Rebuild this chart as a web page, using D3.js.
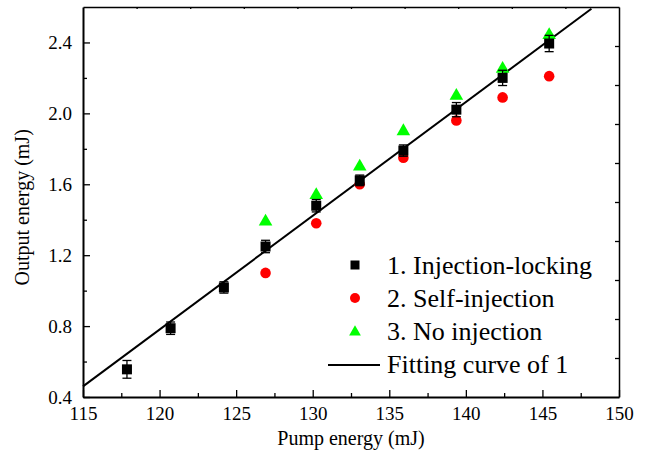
<!DOCTYPE html>
<html>
<head>
<meta charset="utf-8">
<script src="https://cdn.jsdelivr.net/npm/d3@7"></script>
</head>
<body style="margin:0">
<div id="chart"></div>
<script>
///// DATOS /////
let pump = [117.87, 120.72, 124.2, 126.92, 130.23, 133.07, 135.92, 139.38, 142.4, 145.44];
let injLocking = [0.556, 0.788, 1.018, 1.249, 1.479, 1.622, 1.79, 2.021, 2.2, 2.394];
let injLockingErr = [0.05, 0.035, 0.032, 0.035, 0.035, 0.03, 0.032, 0.04, 0.043, 0.046];

let pumpOther = [126.92, 130.23, 133.07, 135.92, 139.38, 142.4, 145.44];
let selfInjection = [1.10, 1.38, 1.60, 1.75, 1.96, 2.09, 2.21];
let noInjection = [1.395, 1.545, 1.705, 1.905, 2.105, 2.257, 2.447];

let fitX = [115, 148.2];
let fitY = [0.46, 2.59];

let xTicks = [115, 120, 125, 130, 135, 140, 145, 150];
let xMinor = [117.5, 122.5, 127.5, 132.5, 137.5, 142.5, 147.5];
let yTicks = [0.4, 0.8, 1.2, 1.6, 2.0, 2.4];
let yMinor = [0.6, 1.0, 1.4, 1.8, 2.2];

let legendLabels = ['1. Injection-locking', '2. Self-injection', '3. No injection', 'Fitting curve of 1'];

let fontName = 'Liberation Serif';

///// GRAFICO /////
let chartBlock = d3.select('#chart');
let margin = {top: 7, right: 30, bottom: 66, left: 83};
let width = 649 - margin.left - margin.right,
    height = 463 - margin.top - margin.bottom;

let svg = chartBlock.append('svg')
    .attr('width', width + margin.left + margin.right)
    .attr('height', height + margin.top + margin.bottom)
    .attr('font-family', fontName);

let chart = svg.append('g')
    .attr('transform', 'translate(' + margin.left + ',' + margin.top + ')');

let x = d3.scaleLinear().domain([115, 150]).range([0, width]);
let y = d3.scaleLinear().domain([0.4, 2.6]).range([height, 0]);

//Ejes secundarios (arriba y derecha) con su propia division
let xTop = d3.scaleLinear().domain([0, 10]).range([0, width]);
let yRight = d3.scaleLinear().domain([0, 10]).range([height, 0]);

function styleAxis(g, w) {
    g.attr('font-family', fontName).attr('font-size', 19);
    g.select('.domain').attr('stroke', '#000').attr('stroke-width', w);
    g.selectAll('.tick line').attr('stroke', '#000').attr('stroke-width', 1.3);
    g.selectAll('.tick text').attr('fill', '#000');
}

//Eje X abajo
chart.append('g')
    .attr('transform', 'translate(0,' + height + ')')
    .call(d3.axisBottom(x).tickValues(xMinor).tickSizeInner(-4).tickSizeOuter(0).tickFormat(''))
    .call(function(g) { g.select('.domain').remove(); styleAxis(g, 2); });

chart.append('g')
    .attr('transform', 'translate(0,' + height + ')')
    .call(d3.axisBottom(x).tickValues(xTicks).tickSizeInner(-7).tickSizeOuter(0).tickPadding(10).tickFormat(d3.format('d')))
    .call(function(g) { styleAxis(g, 2); });

//Eje Y izquierda
chart.append('g')
    .call(d3.axisLeft(y).tickValues(yMinor).tickSizeInner(-4).tickSizeOuter(0).tickFormat(''))
    .call(function(g) { g.select('.domain').remove(); styleAxis(g, 2); });

chart.append('g')
    .call(d3.axisLeft(y).tickValues(yTicks).tickSizeInner(-7).tickSizeOuter(0).tickPadding(11).tickFormat(d3.format('.1f')))
    .call(function(g) { styleAxis(g, 2); });

//Ejes arriba y derecha
chart.append('g')
    .call(d3.axisTop(xTop).tickValues(d3.range(1, 10)).tickSizeInner(-2).tickSizeOuter(0).tickFormat(''))
    .call(function(g) { styleAxis(g, 1.5); });

chart.append('g')
    .attr('transform', 'translate(' + width + ',0)')
    .call(d3.axisRight(yRight).tickValues(d3.range(1, 10)).tickSizeInner(-4).tickSizeOuter(0).tickFormat(''))
    .call(function(g) { styleAxis(g, 1.5); });

//Titulos de ejes
svg.append('text')
    .attr('x', margin.left + width / 2)
    .attr('y', 445)
    .attr('text-anchor', 'middle')
    .attr('font-family', fontName)
    .attr('font-size', 20)
    .text('Pump energy (mJ)');

svg.append('text')
    .attr('transform', 'translate(29,' + (margin.top + y(1.47)) + ') rotate(-90)')
    .attr('text-anchor', 'middle')
    .attr('font-family', fontName)
    .attr('font-size', 20)
    .text('Output energy (mJ)');

//Curva de ajuste
let fitData = fitX.map(function(d, i) { return {x: d, y: fitY[i]}; });
chart.append('path')
    .datum(fitData)
    .attr('fill', 'none')
    .attr('stroke', '#000')
    .attr('stroke-width', 2)
    .attr('d', d3.line().x(function(d) { return x(d.x); }).y(function(d) { return y(d.y); }));

//Serie 3 > triangulos
let triangle = d3.symbol().type(d3.symbolTriangle).size(80);
let greenData = pumpOther.map(function(d, i) { return {x: d, y: noInjection[i]}; });
chart.selectAll('.tri')
    .data(greenData)
    .enter()
    .append('path')
    .attr('class', 'tri')
    .attr('transform', function(d) { return 'translate(' + x(d.x) + ',' + (y(d.y) + 1) + ')'; })
    .attr('d', triangle)
    .attr('fill', '#00ff00');

//Serie 2 > circulos
let redData = pumpOther.map(function(d, i) { return {x: d, y: selfInjection[i]}; });
chart.selectAll('.circ')
    .data(redData)
    .enter()
    .append('circle')
    .attr('class', 'circ')
    .attr('cx', function(d) { return x(d.x); })
    .attr('cy', function(d) { return y(d.y); })
    .attr('r', 5.3)
    .attr('fill', '#ff0000');

//Serie 1 > cuadrados con barras de error
let blackData = pump.map(function(d, i) { return {x: d, y: injLocking[i], e: injLockingErr[i]}; });
let err = chart.selectAll('.err')
    .data(blackData)
    .enter()
    .append('g')
    .attr('class', 'err')
    .attr('stroke', '#000')
    .attr('stroke-width', 1.3);

err.append('line')
    .attr('x1', function(d) { return x(d.x); })
    .attr('x2', function(d) { return x(d.x); })
    .attr('y1', function(d) { return y(d.y - d.e); })
    .attr('y2', function(d) { return y(d.y + d.e); });

err.append('line')
    .attr('x1', function(d) { return x(d.x) - 4.5; })
    .attr('x2', function(d) { return x(d.x) + 4.5; })
    .attr('y1', function(d) { return y(d.y - d.e); })
    .attr('y2', function(d) { return y(d.y - d.e); });

err.append('line')
    .attr('x1', function(d) { return x(d.x) - 4.5; })
    .attr('x2', function(d) { return x(d.x) + 4.5; })
    .attr('y1', function(d) { return y(d.y + d.e); })
    .attr('y2', function(d) { return y(d.y + d.e); });

chart.selectAll('.sq')
    .data(blackData)
    .enter()
    .append('rect')
    .attr('class', 'sq')
    .attr('x', function(d) { return x(d.x) - 5; })
    .attr('y', function(d) { return y(d.y) - 5; })
    .attr('width', 10)
    .attr('height', 10)
    .attr('fill', '#000');

//Leyenda
let legend = svg.append('g').attr('transform', 'translate(355,265)');
let rowH = 33;

legend.append('rect').attr('x', -4.5).attr('y', -4.5).attr('width', 9).attr('height', 9).attr('fill', '#000');
legend.append('circle').attr('cx', 0).attr('cy', rowH).attr('r', 5).attr('fill', '#ff0000');
legend.append('path')
    .attr('transform', 'translate(0,' + (rowH * 2 + 1) + ')')
    .attr('d', d3.symbol().type(d3.symbolTriangle).size(60))
    .attr('fill', '#00ff00');
legend.append('line')
    .attr('x1', -27).attr('x2', 25)
    .attr('y1', rowH * 3 + 1).attr('y2', rowH * 3 + 1)
    .attr('stroke', '#000').attr('stroke-width', 2);

legend.selectAll('.leg-text')
    .data(legendLabels)
    .enter()
    .append('text')
    .attr('class', 'leg-text')
    .attr('x', 32)
    .attr('y', function(d, i) { return i * rowH + 8.5; })
    .attr('font-family', fontName)
    .attr('font-size', 26)
    .attr('fill', '#000')
    .text(function(d) { return d; });
</script>
</body>
</html>
